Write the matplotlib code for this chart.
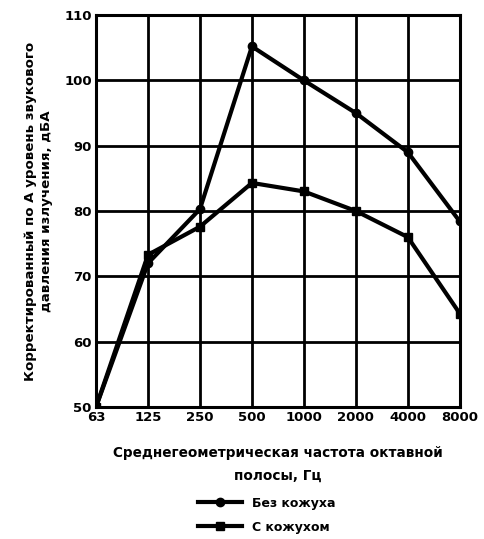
import matplotlib
matplotlib.use("Agg")
import matplotlib.pyplot as plt

plt.rcParams["font.family"] = ["DejaVu Sans"]
plt.rcParams["font.weight"] = "bold"
plt.rcParams["axes.labelweight"] = "bold"

freqs = ["63", "125", "250", "500", "1000", "2000", "4000", "8000"]
bez_kozhukha = [50, 72, 80.3, 105.2, 100, 95, 89, 78.4]
s_kozhukhom = [50, 73.3, 77.6, 84.3, 83, 80, 76, 64.3]
yticks = [50, 60, 70, 80, 90, 100, 110]

fig = plt.figure(figsize=(4.85, 5.39), dpi=100)
ax = fig.add_axes([0.198, 0.245, 0.75, 0.727])

x = list(range(len(freqs)))
ax.plot(x, bez_kozhukha, "k-", lw=3, marker="o", ms=6, label="Без кожуха")
ax.plot(x, s_kozhukhom, "k-", lw=3, marker="s", ms=6, label="С кожухом")

ax.set_xlim(0, len(freqs) - 1)
ax.set_ylim(50, 110)
ax.set_xticks(x)
ax.set_xticklabels(freqs, fontsize=9.5)
ax.set_yticks(yticks)
ax.set_yticklabels([str(v) for v in yticks], fontsize=9.5)
ax.tick_params(length=0, pad=3)
ax.grid(True, color="k", lw=2)
for sp in ax.spines.values():
    sp.set_linewidth(2.2)

ax.set_xlabel("Среднегеометрическая частота октавной\nполосы, Гц", fontsize=9.8,
              labelpad=16, linespacing=1.8)
ax.set_ylabel("Корректированный по А уровень звукового\nдавления излучения, дБА",
              fontsize=9.6, labelpad=8, linespacing=1.3)

leg = ax.legend(loc="upper center", bbox_to_anchor=(0.47, -0.2), frameon=False,
                fontsize=9, handlelength=3.5, labelspacing=0.9)

fig.savefig("out.png", dpi=100)
